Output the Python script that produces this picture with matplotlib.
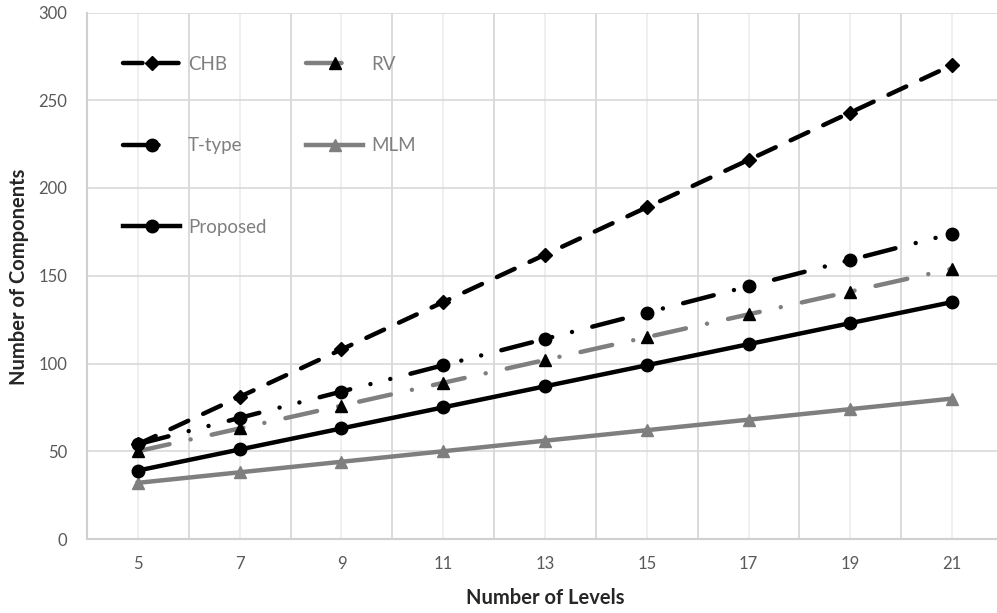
import matplotlib
matplotlib.use("Agg")
import matplotlib.pyplot as plt
from matplotlib.ticker import FixedLocator
from matplotlib.lines import Line2D

levels = [5, 7, 9, 11, 13, 15, 17, 19, 21]
chb = [54, 81, 108, 135, 162, 189, 216, 243, 270]
ttype = [54, 69, 84, 99, 114, 129, 144, 159, 174]
rv = [50, 63, 76, 89, 102, 115, 128, 141, 154]
proposed = [39, 51, 63, 75, 87, 99, 111, 123, 135]
mlm = [32, 38, 44, 50, 56, 62, 68, 74, 80]
yticks = [0, 50, 100, 150, 200, 250, 300]

plt.rcParams['font.family'] = ['Lato', 'DejaVu Sans']

fig = plt.figure(figsize=(9.97, 6.13), dpi=100)
W, H = 997, 613
ax = fig.add_axes([87 / W, 1 - 539 / H, (1003 - 87) / W, (539 - 12.5) / H])

gray = '#7f7f7f'
lw = 3.2
l1, = ax.plot(levels, chb, color='black', lw=lw, ls=(0, (4.4, 3.7)), marker='D', ms=7.5,
              dash_capstyle='round', label='CHB', zorder=5)
l2, = ax.plot(levels, ttype, color='black', lw=lw, ls=(0, (7.1, 4.7, 0.01, 4.6, 0.01, 4.7)),
              marker='o', ms=9, dash_capstyle='round', label='T-type', zorder=4)
l3, = ax.plot(levels, proposed, color='black', lw=lw, ls='-', marker='o', ms=9,
              label='Proposed', zorder=4)
l4, = ax.plot(levels, rv, color=gray, lw=lw, ls=(0, (7.3, 4.85, 0.01, 4.85)), marker='^', ms=9,
              mfc='black', mec='black', dash_capstyle='round', label='RV', zorder=3)
l5, = ax.plot(levels, mlm, color=gray, lw=lw, ls='-', marker='^', ms=9,
              mfc=gray, mec=gray, label='MLM', zorder=3)

# legend proxies (legend swatches show only the first dash of each pattern)
h2 = Line2D([], [], color='black', lw=lw, ls=(0, (8, 20)), marker='o', ms=9,
            dash_capstyle='round', label='T-type')
h4 = Line2D([], [], color=gray, lw=lw, ls=(0, (8, 20)), marker='^', ms=9,
            mfc='black', mec='black', dash_capstyle='round', label='RV')

ax.set_xlim(4, 22)
ax.set_ylim(0, 300)
ax.xaxis.set_major_locator(FixedLocator(levels))
ax.xaxis.set_minor_locator(FixedLocator([4, 6, 8, 10, 12, 14, 16, 18, 20, 22]))
ax.yaxis.set_major_locator(FixedLocator(yticks))
ax.grid(True, which='major', axis='y', color='#d9d9d9', lw=1.2)
ax.grid(True, which='major', axis='x', color='#ececec', lw=1.2)
ax.grid(True, which='minor', axis='x', color='#d4d4d4', lw=1.2)
ax.set_axisbelow(True)
ax.tick_params(which='both', length=0)
ax.tick_params(axis='y', pad=14, labelsize=12, labelcolor='#595959')
ax.tick_params(axis='x', pad=12, labelsize=12, labelcolor='#595959')
for s in ['top', 'right']:
    ax.spines[s].set_visible(False)
for s in ['left', 'bottom']:
    ax.spines[s].set_color('#d0d0d0')
    ax.spines[s].set_linewidth(1.5)

fig.text(545 / W, 1 - 598 / H, 'Number of Levels', ha='center', va='center',
         fontsize=14.5, fontweight='bold', color='#262626')
fig.text(19 / W, 1 - 277 / H, 'Number of Components', ha='center', va='center',
         rotation=90, fontsize=14.5, fontweight='bold', color='#262626')

fs = 13.5
leg = ax.legend(handles=[l1, h2, l3, h4, l5], ncol=2, loc='upper left',
                bbox_to_anchor=(123 / W, 1 - 56 / H), bbox_transform=fig.transFigure,
                frameon=False, fontsize=fs, labelspacing=3.43, handlelength=3.05,
                handletextpad=0.43, columnspacing=2.1, borderpad=0, borderaxespad=0,
                numpoints=1)
for t in leg.get_texts():
    t.set_color('#7f7f7f')

fig.savefig('out.png', dpi=100)
